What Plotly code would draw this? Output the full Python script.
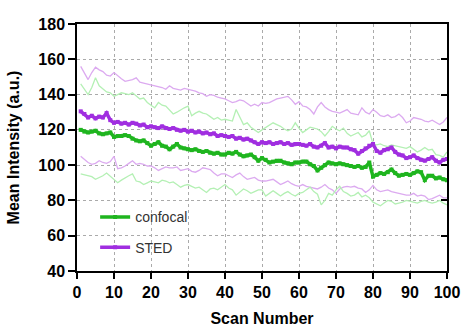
import plotly.graph_objects as go

scan = list(range(1, 101))

# Mean intensity per scan (a.u.)
sted_mean = [
    130.5, 129, 127, 128, 126.5, 127.5, 127, 129.5, 125.5, 124,
    124.5, 123.5, 124, 123, 124, 123.5, 122.5, 123, 121.5, 122,
    121.5, 121, 122, 121, 120.5, 121, 120, 119.5, 120, 119,
    119.5, 118.5, 119, 118, 118.5, 117.5, 118, 116.5, 117, 116.5,
    116, 116.5, 115, 115.5, 114.5, 115, 114, 113, 112, 113,
    112.5, 113, 112, 112.5, 113, 112, 112.5, 111.5, 112, 112,
    111.5, 111, 112, 110.5, 110, 111, 112.5, 110, 110.5, 109.5,
    110.5, 110, 110, 109, 108.5, 106.5, 108, 109.5, 111, 112,
    108, 107, 108.5, 109, 110, 107.5, 106, 105.5, 104, 104.5,
    105.5, 104, 103, 102.5, 103.5, 104.5, 102.5, 101.5, 103, 103.5,
]
confocal_mean = [
    120, 119, 118.5, 119, 119.5, 118, 117.5, 118, 118.5, 116,
    116.5, 116.5, 117, 116.5, 115, 114, 113.5, 114, 112.5, 111,
    112, 113, 111, 110.5, 109, 110.5, 112, 110, 109.5, 109,
    108.5, 109, 108, 107.5, 108, 107, 106.5, 107, 106, 106,
    107, 106.5, 107.5, 106, 105, 105.5, 106, 104.5, 102.5, 104,
    103, 101.5, 102, 102.5, 102.5, 101.5, 101, 100.5, 101.5, 101.5,
    102, 102, 100.5, 99.5, 97, 98.5, 100, 101.5, 101, 100.5,
    101, 100.5, 100, 99.5, 99, 99.5, 98.5, 99, 101.5, 93.5,
    94.5, 95.5, 95, 96, 97.5, 95.5, 94, 94.5, 95, 94.5,
    95.5, 96.5, 96, 91.5, 94, 94, 92.5, 93, 92, 91.5,
]

# Mean +/- standard deviation envelopes
sted_upper = [
    156, 152, 148.5, 152.5, 155.5, 154, 153, 151, 150.5, 152.5,
    150.5, 149, 147.5, 148, 148.5, 149.5, 147, 146.5, 146, 145.5,
    145, 144.5, 144, 143, 145, 143.5, 143, 142.5, 143.5, 143,
    142.5, 142, 141, 140.5, 139, 140, 139.5, 138.5, 138, 137.5,
    136.5, 135.5, 136, 137, 136.5, 135, 133.5, 134.5, 133.5, 135.5,
    135, 135.5, 136.5, 137.5, 138, 138.5, 139, 137, 134.5, 136,
    133.5, 133, 131.5, 129, 133, 135.5, 133, 131.5, 130.5, 130,
    129.5, 130.5, 131.5, 129.5, 129, 128.5, 132.5, 130, 129, 131.5,
    130, 128, 127.5, 128.5, 127, 127.5, 129, 127, 124, 125,
    127, 126.5, 126, 125, 124.5, 125.5, 124, 123, 124.5, 127,
]
sted_lower = [
    105, 103, 101.5, 100.5, 101, 102.5, 101.5, 101, 102, 105,
    98, 98.5, 99.5, 101, 102.5, 100.5, 101, 100.5, 99.5, 99.5,
    98.5, 97, 98, 99, 98.5, 98.5, 99, 97, 97.5, 98,
    96.5, 96, 97, 98.5, 98, 97.5, 95.5, 94, 95, 95,
    94, 93, 94.5, 95.5, 93.5, 92, 92.5, 93, 91.5, 91,
    91, 91.5, 92, 90.5, 89, 90, 91, 89.5, 88.5, 88,
    89, 88, 87.5, 87, 86.5, 87.5, 89, 87, 86, 84,
    86.5, 87.5, 88, 87.5, 88, 87, 86.5, 84.5, 86, 88.5,
    86, 85, 85.5, 86, 85, 84.5, 84, 83.5, 83, 83,
    84, 82.5, 83, 82.5, 80.5, 81, 82, 83, 81.5, 81.5,
]
confocal_upper = [
    146, 143, 140, 144, 149.5, 145, 143, 141.5, 141, 139,
    140, 141, 140.5, 140, 141, 139, 137.5, 138, 135.5, 134,
    132.5, 135.5, 134, 133.5, 131.5, 129, 130, 131.5, 132.5, 133.5,
    128, 129.5, 130.5, 129.5, 129, 127.5, 126, 127, 125.5, 126,
    125.5, 125, 131.5, 127, 123, 124, 121.5, 120, 118.5, 120,
    121.5, 122.5, 124, 123, 122, 120.5, 119.5, 120.5, 124, 121,
    118.5, 120, 121.5, 121, 120.5, 119, 116.5, 119, 122, 120.5,
    119.5, 121, 118, 116.5, 117.5, 118.5, 116, 117, 119.5, 112,
    111.5, 112, 111, 110.5, 111.5, 111, 110.5, 110, 109.5, 110.5,
    109, 107.5, 108.5, 110, 108.5, 109, 106, 105.5, 104.5, 107.5,
]
confocal_lower = [
    95, 94.5, 94, 93.5, 92, 93, 94, 95.5, 93.5, 92,
    90, 91.5, 93, 94, 95, 91, 90.5, 89, 90, 91,
    90.5, 90, 91.5, 91, 90, 90.5, 89, 87.5, 88.5, 89,
    88, 87, 87.5, 86, 84.5, 86.5, 87, 86, 87.5, 89,
    87, 86, 83, 84.5, 86.5, 85.5, 84, 85, 86, 86,
    82.5, 84, 85.5, 84, 82.5, 84, 85, 83.5, 82.5, 84,
    84.5, 86, 87.5, 85, 83.5, 77.5, 80, 84, 83, 86,
    88, 85, 84, 82.5, 83, 84.5, 82, 83, 81.5, 79,
    78, 77, 78.5, 80, 79.5, 78, 78.5, 79, 80, 79.5,
    79, 78.5, 79.5, 80, 79, 78.5, 79, 80, 78.5, 77.5,
]

GREEN = "#1fb51f"
PURPLE = "#a02ee0"
GREEN_LIGHT = "#b4f0b4"
PURPLE_LIGHT = "#dcaaf0"

fig = go.Figure()

# thin envelope lines
for ys, col in [(sted_upper, PURPLE_LIGHT), (confocal_upper, GREEN_LIGHT),
                (sted_lower, PURPLE_LIGHT), (confocal_lower, GREEN_LIGHT)]:
    fig.add_trace(go.Scatter(x=scan, y=ys, mode="lines",
                             line=dict(color=col, width=1.3),
                             showlegend=False, hoverinfo="skip"))

# mean lines
fig.add_trace(go.Scatter(x=scan, y=sted_mean, mode="lines+markers", name="STED",
                         line=dict(color=PURPLE, width=3.5),
                         marker=dict(symbol="square", size=4, color=PURPLE),
                         legendgroup="b", legendrank=2))
fig.add_trace(go.Scatter(x=scan, y=confocal_mean, mode="lines+markers", name="confocal",
                         line=dict(color=GREEN, width=3.5),
                         marker=dict(symbol="square", size=4, color=GREEN),
                         legendgroup="a", legendrank=1))

# right-hand axis carrying inward ticks
fig.add_trace(go.Scatter(x=[None], y=[None], yaxis="y2", showlegend=False,
                         hoverinfo="skip"))

tickfont = dict(family="Liberation Sans, Arial, sans-serif", size=16,
                color="black", weight="bold")
titlefont = dict(family="Liberation Sans, Arial, sans-serif", size=16,
                 color="black", weight="bold")

fig.update_layout(
    width=463, height=327,
    margin=dict(l=77, r=16, t=24, b=56),
    paper_bgcolor="white", plot_bgcolor="white",
    showlegend=True,
    legend=dict(x=0.049, y=0.282, xanchor="left", yanchor="top",
                bgcolor="rgba(0,0,0,0)", tracegroupgap=9,
                font=dict(family="Liberation Sans, Arial, sans-serif",
                          size=14, color="#333333")),
    xaxis=dict(range=[0, 100], dtick=10, tick0=0, automargin=False,
               showline=True, linecolor="black", linewidth=1.5, mirror=True,
               ticks="outside", ticklen=6, tickwidth=1.5, tickcolor="black",
               showgrid=True, gridcolor="#aaaaaa", griddash="dot", gridwidth=1,
               zeroline=False, tickfont=tickfont,
               title=dict(text="Scan Number", font=titlefont)),
    yaxis=dict(range=[40, 180], dtick=20, tick0=40, automargin=False,
               showline=True, linecolor="black", linewidth=1.5, mirror=True,
               ticks="outside", ticklen=7, tickwidth=1.5, tickcolor="black",
               showgrid=True, gridcolor="#aaaaaa", griddash="dot", gridwidth=1,
               zeroline=False, tickfont=tickfont,
               title=dict(text="Mean Intensity (a.u.)", font=titlefont)),
    yaxis2=dict(range=[40, 180], dtick=20, tick0=40, overlaying="y", side="right",
                showline=False, ticks="inside", ticklen=6, tickwidth=1.5,
                tickcolor="black", showticklabels=False, showgrid=False,
                zeroline=False, automargin=False),
)

fig.write_html("out.html")
